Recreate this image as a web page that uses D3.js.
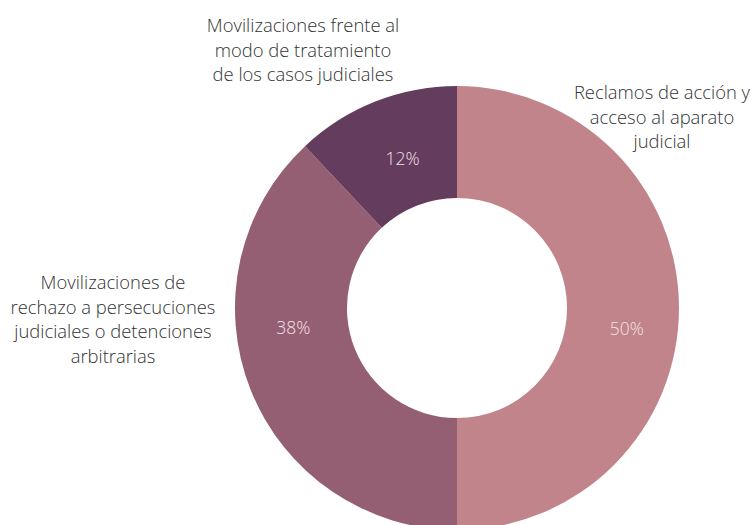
<!DOCTYPE html>
<html>
<head>
<meta charset="utf-8">
<script src="https://cdn.jsdelivr.net/npm/d3@7"></script>
<style>
  html, body { margin: 0; padding: 0; background: #fff; }
  svg { display: block; }
</style>
</head>
<body>
<svg id="chart" width="755" height="525"></svg>
<script>
// Categories, shares (%) and slice colours
const categories = [
  "Reclamos de acción y acceso al aparato judicial",
  "Movilizaciones de rechazo a persecuciones judiciales o detenciones arbitrarias",
  "Movilizaciones frente al modo de tratamiento de los casos judiciales"
];
const values = [50, 38, 12];
const colors = ["#C0848A", "#955F73", "#643C5E"];
// Category labels broken into lines
const labelLines = [
  ["Reclamos de acción y", "acceso al aparato", "judicial"],
  ["Movilizaciones de", "rechazo a persecuciones", "judiciales o detenciones", "arbitrarias"],
  ["Movilizaciones frente al", "modo de tratamiento", "de los casos judiciales"]
];

const svg = d3.select("#chart");
const cx = 457, cy = 308, outerR = 222, innerR = 110;

const pie = d3.pie().value(d => d).sort(null);
const arcs = pie(values);
const arc = d3.arc().innerRadius(innerR).outerRadius(outerR);

const g = svg.append("g").attr("transform", `translate(${cx},${cy})`);

g.selectAll("path.slice")
  .data(arcs)
  .join("path")
  .attr("class", "slice")
  .attr("d", arc)
  .attr("fill", (d, i) => colors[i]);

// Percentage labels inside the ring
const pctPlacement = [
  { angle: 97 * Math.PI / 180, r: 171 },
  { angle: 263 * Math.PI / 180, r: 165 },
  { angle: 340 * Math.PI / 180, r: 159 }
];
g.selectAll("text.pct")
  .data(arcs)
  .join("text")
  .attr("class", "pct")
  .attr("x", (d, i) => pctPlacement[i].r * Math.sin(pctPlacement[i].angle))
  .attr("y", (d, i) => -pctPlacement[i].r * Math.cos(pctPlacement[i].angle))
  .attr("dy", "0.35em")
  .attr("text-anchor", "middle")
  .attr("font-family", "'Open Sans', sans-serif")
  .attr("font-weight", 300)
  .attr("font-size", 17.5)
  .attr("fill", "#F3E3E7")
  .text(d => d.data + "%");

// Category labels outside the ring
const labelAnchors = [
  { x: 662, y: 99 },
  { x: 113, y: 289 },
  { x: 303, y: 32 }
];
const lineH = 24.5;
labelLines.forEach((lines, i) => {
  const t = svg.append("text")
    .attr("text-anchor", "middle")
    .attr("font-family", "'Open Sans', sans-serif")
    .attr("font-weight", 300)
    .attr("font-size", 18.4)
    .attr("fill", "#333333");
  lines.forEach((ln, j) => {
    t.append("tspan")
      .attr("x", labelAnchors[i].x)
      .attr("y", labelAnchors[i].y + j * lineH)
      .text(ln);
  });
});
</script>
</body>
</html>
